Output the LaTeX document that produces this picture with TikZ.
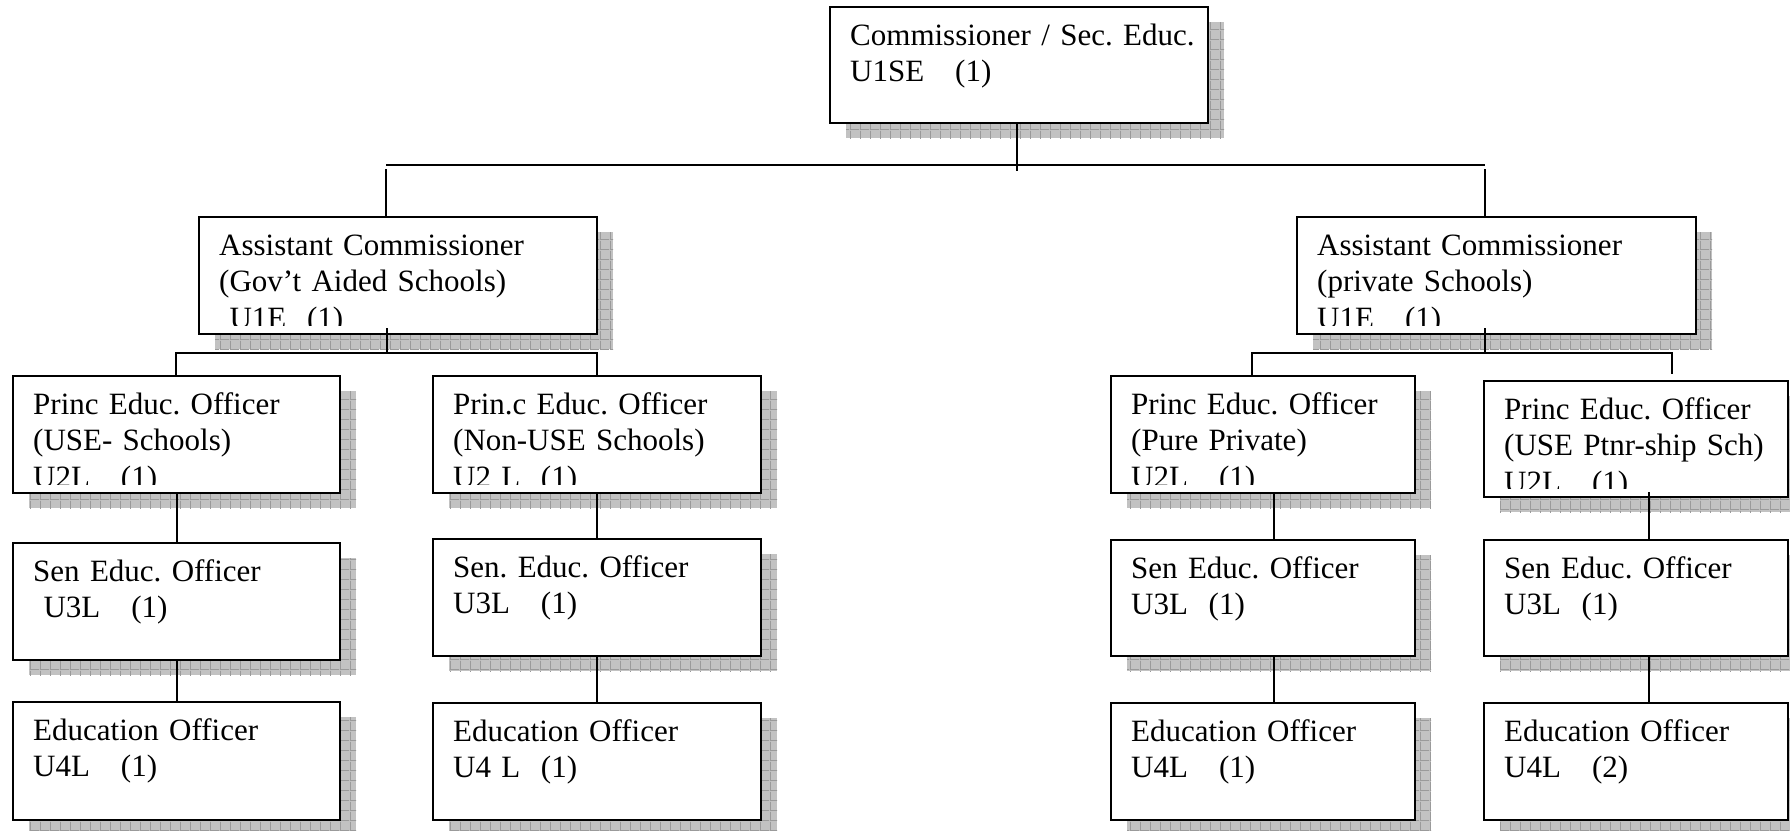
\documentclass[tikz,border=0pt]{standalone}
\usepackage{fontspec}
\setmainfont{Liberation Serif}
\usetikzlibrary{patterns}
\definecolor{shfill}{HTML}{C2C2C2}
\definecolor{shline}{HTML}{9A9A9A}
\pgfdeclarepatternformonly{shgrid}{\pgfpoint{0pt}{0pt}}{\pgfpoint{10pt}{10pt}}{\pgfpoint{10pt}{10pt}}{%
  \pgfsetlinewidth{1pt}%
  \pgfpathmoveto{\pgfpoint{0.5pt}{0pt}}\pgfpathlineto{\pgfpoint{0.5pt}{10pt}}%
  \pgfpathmoveto{\pgfpoint{0pt}{0.5pt}}\pgfpathlineto{\pgfpoint{10pt}{0.5pt}}%
  \pgfusepath{stroke}}
\tikzset{
  orgbox/.style={draw, line width=2.1pt, fill=white, inner sep=0pt, outer sep=0pt, anchor=north west},
  shadowbox/.style={fill=shfill, postaction={pattern=shgrid, pattern color=shline}},
  txt/.style={anchor=base west, inner sep=0pt, text width=380pt, align=left, font=\fontsize{31}{36.6}\selectfont\frenchspacing},
  conn/.style={line width=2pt}
}
% #1 name, #2 x, #3 y, #4 w, #5 h, #6 text, #7 clip margin at bottom
\newcommand\OrgBox[7]{%
  \path[shadowbox] (#2+16,#3+15) rectangle ++(#4,#5);
  \node[orgbox, minimum width=#4, minimum height=#5] (#1) at (#2,#3) {};
  \begin{scope}
    \clip (#2,#3) rectangle ++(#4,#5-#7);
    \node[txt] (#1-t) at (#2+20,#3+38) {#6};
  \end{scope}
}
\begin{document}
\begin{tikzpicture}[x=1pt,y=-1pt]
\useasboundingbox (0,0) rectangle (1790,830);
\fill[white] (0,0) rectangle (1790,830);

\OrgBox{top}{830}{7}{378}{116}{Commissioner / Sec. Educ.\\U1SE\ \ \ (1)}{2}
\OrgBox{acL}{199}{217}{398}{117}{Assistant Commissioner\\(Gov’t Aided Schools)\\\ U1E\ \ (1)}{9}
\OrgBox{acR}{1297}{217}{399}{117}{Assistant Commissioner\\(private Schools)\\U1E\ \ \ (1)}{9}

\OrgBox{peo1}{13}{376}{327}{117}{Princ Educ. Officer\\(USE- Schools)\\U2L\ \ \ (1)}{9}
\OrgBox{peo2}{433}{376}{328}{117}{Prin.c Educ. Officer\\(Non-USE Schools)\\U2 L\ \ (1)}{9}
\OrgBox{peo3}{1111}{376}{304}{117}{Princ Educ. Officer\\(Pure Private)\\U2L\ \ \ (1)}{9}
\OrgBox{peo4}{1484}{381}{304}{116}{Princ Educ. Officer\\(USE Ptnr-ship Sch)\\U2L\ \ \ (1)}{9}

\OrgBox{sen1}{13}{543}{327}{117}{Sen Educ. Officer\\\ U3L\ \ \ (1)}{2}
\OrgBox{sen2}{433}{539}{328}{117}{Sen. Educ. Officer\\U3L\ \ \ (1)}{2}
\OrgBox{sen3}{1111}{540}{304}{116}{Sen Educ. Officer\\U3L\ \ (1)}{2}
\OrgBox{sen4}{1484}{540}{304}{116}{Sen Educ. Officer\\U3L\ \ (1)}{2}

\OrgBox{edu1}{13}{702}{327}{118}{Education Officer\\U4L\ \ \ (1)}{2}
\OrgBox{edu2}{433}{703}{328}{117}{Education Officer\\U4 L\ \ (1)}{2}
\OrgBox{edu3}{1111}{703}{304}{117}{Education Officer\\U4L\ \ \ (1)}{2}
\OrgBox{edu4}{1484}{703}{304}{117}{Education Officer\\U4L\ \ \ (2)}{2}

% level 1 connectors
\coordinate (mC) at (1017,171);
\coordinate (mL) at (386,165);
\coordinate (mR) at (1485,165);
\draw[conn] (mC |- top.south) -- (mC);
\draw[conn] (mL) -- (mR);
\draw[conn] (mL) ++(0,4) -- (mL |- acL.north);
\draw[conn] (mR) ++(0,4) -- (mR |- acR.north);

% left branch
\coordinate (aLd) at (387,353);
\coordinate (bL1) at (176,353);
\coordinate (bL2) at (597,353);
\draw[conn] (aLd |- acL.south) ++(0,-6) -- (aLd);
\draw[conn] (bL1 |- peo1.north) -- (bL1) -- (bL2) -- (bL2 |- peo2.north);

% right branch
\coordinate (aRd) at (1485,353);
\coordinate (bR1) at (1252,353);
\coordinate (bR2) at (1672,353);
\coordinate (bR2e) at (1672,374);
\draw[conn] (aRd |- acR.south) ++(0,-6) -- (aRd);
\draw[conn] (bR1 |- peo3.north) -- (bR1) -- (bR2) -- (bR2e);

% columns
\coordinate (c1) at (177,0);
\coordinate (c2) at (597,0);
\coordinate (c3) at (1274,0);
\coordinate (c4) at (1649,0);
\draw[conn] (c1 |- peo1.south) -- (c1 |- sen1.north);
\draw[conn] (c1 |- sen1.south) -- (c1 |- edu1.north);
\draw[conn] (c2 |- peo2.south) -- (c2 |- sen2.north);
\draw[conn] (c2 |- sen2.south) -- (c2 |- edu2.north);
\draw[conn] (c3 |- peo3.south) -- (c3 |- sen3.north);
\draw[conn] (c3 |- sen3.south) -- (c3 |- edu3.north);
\draw[conn] (c4 |- peo4.south) ++(0,-5) -- (c4 |- sen4.north);
\draw[conn] (c4 |- sen4.south) -- (c4 |- edu4.north);
\end{tikzpicture}
\end{document}
